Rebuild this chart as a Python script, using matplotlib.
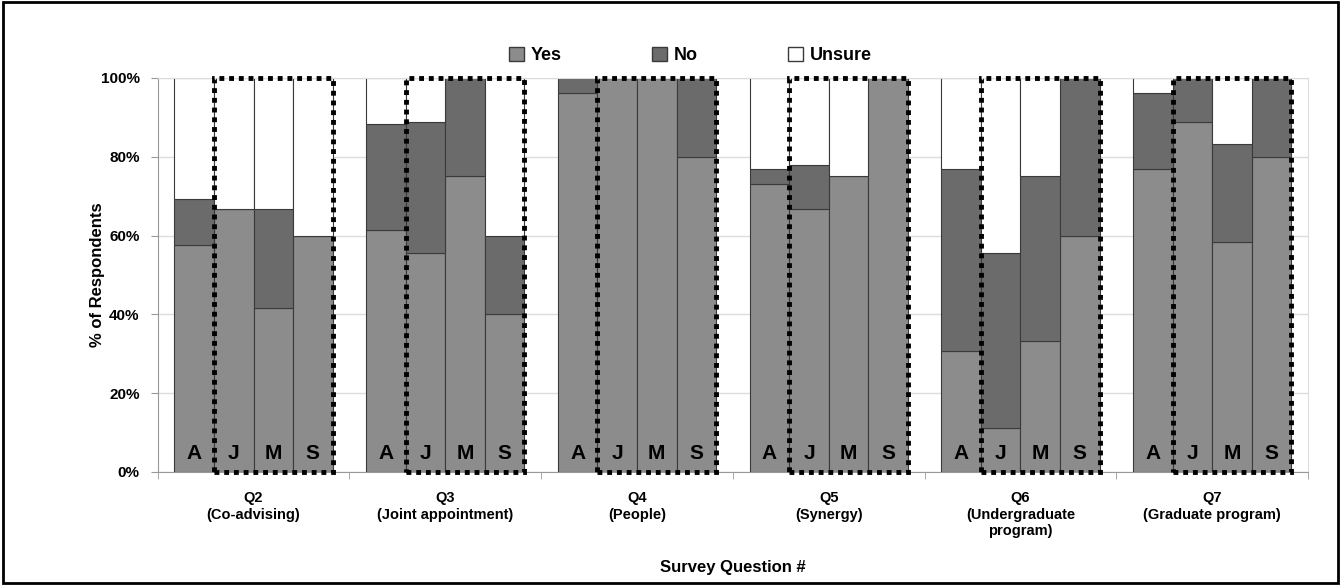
import matplotlib
matplotlib.use("Agg")
import matplotlib.pyplot as plt
from matplotlib.patches import Rectangle, Patch
import numpy as np

plt.rcParams['font.family'] = ['Liberation Sans', 'DejaVu Sans']

questions = ["Q2\n(Co-advising)", "Q3\n(Joint appointment)", "Q4\n(People)",
             "Q5\n(Synergy)", "Q6\n(Undergraduate\nprogram)", "Q7\n(Graduate program)"]
groups = ["A", "J", "M", "S"]
# values per question, per group (A, J, M, S)
yes = [[57.7, 66.7, 41.7, 60.0],
       [61.5, 55.6, 75.0, 40.0],
       [96.2, 100.0, 100.0, 80.0],
       [73.1, 66.7, 75.0, 100.0],
       [30.8, 11.1, 33.3, 60.0],
       [76.9, 88.9, 58.3, 80.0]]
no = [[11.5, 0.0, 25.0, 0.0],
      [26.9, 33.3, 25.0, 20.0],
      [3.8, 0.0, 0.0, 20.0],
      [3.8, 11.1, 0.0, 0.0],
      [46.2, 44.4, 41.7, 40.0],
      [19.2, 11.1, 25.0, 20.0]]
unsure = [[30.8, 33.3, 33.3, 40.0],
          [11.6, 11.1, 0.0, 40.0],
          [0.0, 0.0, 0.0, 0.0],
          [23.1, 22.2, 25.0, 0.0],
          [23.0, 44.5, 25.0, 0.0],
          [3.9, 0.0, 16.7, 0.0]]

fig = plt.figure(figsize=(13.41, 5.85), dpi=100)
ax = fig.add_axes([0.1176, 0.1932, 0.9754 - 0.1176, 0.8667 - 0.1932])

spacing = 4.848
width = 1.0
c_yes, c_no, c_uns = "#8c8c8c", "#6b6b6b", "#ffffff"
edge = "#3a3a3a"

for i in range(len(questions)):
    xs = i * spacing + np.arange(4) - 1.5
    y = np.array(yes[i]); n = np.array(no[i]); u = np.array(unsure[i])
    ax.bar(xs, y, width, color=c_yes, edgecolor=edge, linewidth=0.8, zorder=2)
    ax.bar(xs, n, width, bottom=y, color=c_no, edgecolor=edge, linewidth=0.8, zorder=2)
    ax.bar(xs, u, width, bottom=y + n, color=c_uns, edgecolor=edge, linewidth=0.8, zorder=2)
    for x, g in zip(xs, groups):
        ax.text(x, 4.8, g, ha="center", va="center", fontsize=15, fontweight="bold", zorder=4)
    rect = Rectangle((xs[1] - 0.5, 0), 3, 100, fill=False, edgecolor="black",
                     linewidth=3.5, linestyle=(0, (1, 1)), zorder=5, clip_on=False)
    ax.add_patch(rect)

ax.set_xlim(-spacing / 2, 5.5 * spacing)
ax.set_ylim(0, 100)
ax.set_yticks(np.arange(0, 101, 20))
ax.set_yticklabels([f"{v}%" for v in range(0, 101, 20)], fontsize=11, fontweight="bold")
ax.set_xticks(np.arange(6) * spacing)
ax.set_xticklabels(questions, fontsize=10.5, fontweight="bold")
ax.set_xticks((np.arange(7) - 0.5) * spacing, minor=True)
ax.tick_params(axis="x", which="major", length=0, pad=14)
ax.tick_params(axis="x", which="minor", length=5, color="#999999")
ax.tick_params(axis="y", length=5, color="#999999", pad=8)
ax.yaxis.grid(True, color="#dcdcdc", linewidth=1, zorder=0)
ax.set_axisbelow(True)
for s in ["left", "bottom"]:
    ax.spines[s].set_color("#999999")
for s in ["top", "right"]:
    ax.spines[s].set_color("#dcdcdc")

ax.set_ylabel("% of Respondents", fontsize=12, fontweight="bold", labelpad=-3)
ax.set_xlabel("Survey Question #", fontsize=12, fontweight="bold", labelpad=16)

handles = [Patch(facecolor=c_yes, edgecolor=edge, label="Yes"),
           Patch(facecolor=c_no, edgecolor=edge, label="No"),
           Patch(facecolor=c_uns, edgecolor=edge, label="Unsure")]
leg = fig.legend(handles=handles, loc="center", bbox_to_anchor=(0.515, 0.905), ncol=3,
                 frameon=False, prop={"weight": "bold", "size": 13},
                 handlelength=0.8, handleheight=0.8, handletextpad=0.4, columnspacing=5.0)

fig.add_artist(Rectangle((0.002, 0.003), 0.996, 0.994, transform=fig.transFigure,
                         fill=False, edgecolor="black", linewidth=2))

fig.savefig("out.png", dpi=100)
